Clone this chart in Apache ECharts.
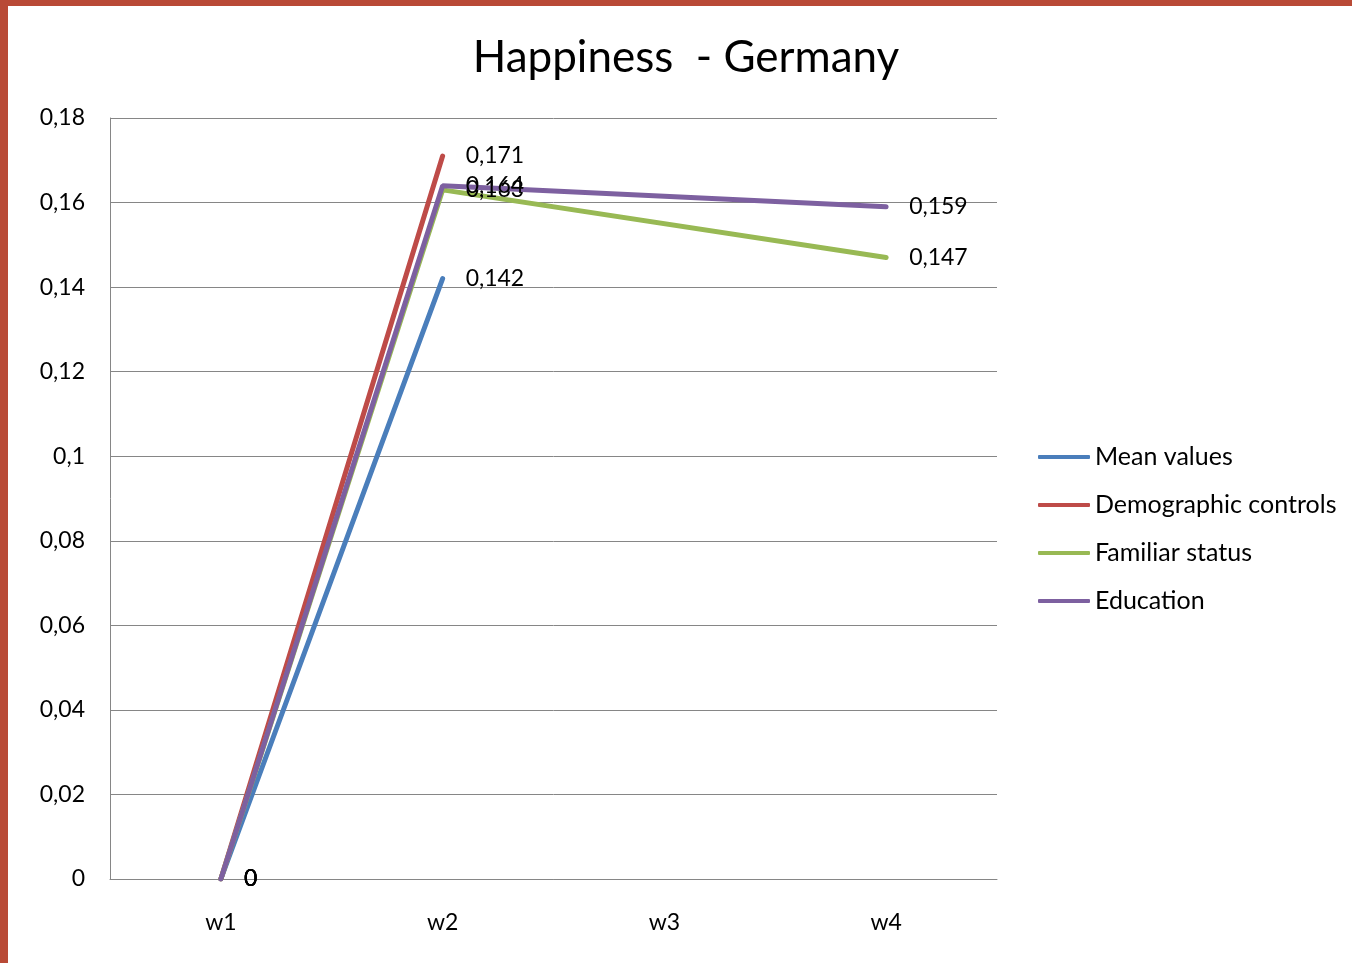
<!DOCTYPE html>
<html>
<head>
<meta charset="utf-8">
<script src="https://cdn.jsdelivr.net/npm/echarts@6/dist/echarts.min.js"></script>
<style>
  html, body { margin: 0; padding: 0; background: #fff; }
  #chart { width: 1352px; height: 963px; }
</style>
</head>
<body>
<div id="chart"></div>
<script>
// Waves and coefficient estimates per model specification
const waves = ['w1', 'w2', 'w3', 'w4'];
const meanValues = [0, 0.142, null, null];
const demographicControls = [0, 0.171, null, null];
const familiarStatus = [0, 0.163, null, 0.147];
const education = [0, 0.164, null, 0.159];

const seriesNames = ['Mean values', 'Demographic controls', 'Familiar status', 'Education'];
const seriesColors = ['#4a7ebb', '#be4b48', '#98b954', '#7d60a0'];
const seriesData = [meanValues, demographicControls, familiarStatus, education];

const FONT = 'Lato, "Open Sans", sans-serif';
const comma = v => String(v).replace('.', ',');

const chart = echarts.init(document.getElementById('chart'));

chart.setOption({
  backgroundColor: '#ffffff',
  animation: false,
  graphic: [
    { type: 'rect', left: 0, top: 0, shape: { width: 1352, height: 6 }, style: { fill: '#b94a36' }, z: 100 },
    { type: 'rect', left: 0, top: 0, shape: { width: 8, height: 963 }, style: { fill: '#b94a36' }, z: 100 }
  ],
  title: {
    text: 'Happiness  - Germany',
    left: 681,
    top: 31,
    textAlign: 'center',
    textStyle: { fontFamily: FONT, fontSize: 44, fontWeight: 'normal', color: '#000' }
  },
  legend: {
    orient: 'vertical',
    left: 1033,
    top: 439,
    itemWidth: 52,
    itemHeight: 4,
    itemGap: 22,
    icon: 'roundRect',
    textStyle: { fontFamily: FONT, fontSize: 25, color: '#000', lineHeight: 26 },
    data: seriesNames
  },
  grid: { left: 110, right: 355, top: 118, bottom: 84 },
  xAxis: {
    type: 'category',
    data: waves,
    boundaryGap: true,
    axisLine: { show: true, lineStyle: { color: '#868686', width: 1 } },
    axisTick: { show: false },
    axisLabel: { fontFamily: FONT, fontSize: 23, color: '#000', margin: 32 }
  },
  yAxis: {
    type: 'value',
    min: 0,
    max: 0.18,
    interval: 0.02,
    axisLine: { show: true, lineStyle: { color: '#868686', width: 1 } },
    axisTick: { show: false },
    splitLine: { show: true, lineStyle: { color: '#868686', width: 1 } },
    axisLabel: {
      fontFamily: FONT, fontSize: 23, color: '#000', margin: 25,
      formatter: v => comma(Math.round(v * 100) / 100)
    }
  },
  series: seriesData.map((d, i) => ({
    name: seriesNames[i],
    type: 'line',
    data: d,
    connectNulls: true,
    symbol: 'circle',
    symbolSize: 0.01,
    showSymbol: true,
    color: seriesColors[i],
    lineStyle: { width: 5, color: seriesColors[i], cap: 'round' },
    label: {
      show: true,
      position: 'right',
      distance: 23,
      padding: [4, 0, 0, 0],
      fontFamily: FONT,
      fontSize: 23,
      color: '#000',
      formatter: p => comma(p.value)
    },
    labelLayout: { hideOverlap: false },
    z: 2 + i
  }))
});
</script>
</body>
</html>
